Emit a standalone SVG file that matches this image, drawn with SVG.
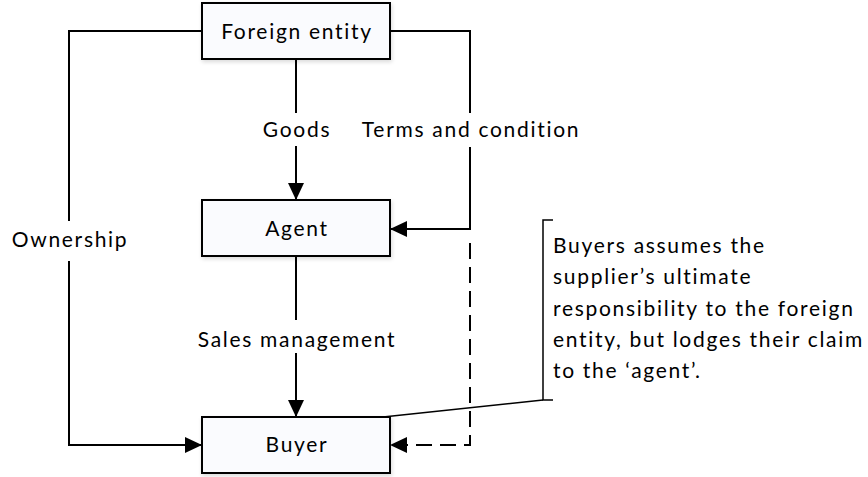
<svg xmlns="http://www.w3.org/2000/svg" width="868" height="477" viewBox="0 0 868 477">
<defs>
<marker id="arr" markerWidth="17" markerHeight="16" refX="17" refY="8" orient="auto" markerUnits="userSpaceOnUse">
<path d="M0,0 L17,8 L0,16 Z" fill="#000"/>
</marker>
<filter id="sh" x="-10%" y="-20%" width="120%" height="140%">
<feGaussianBlur in="SourceAlpha" stdDeviation="2"/>
<feOffset dx="1" dy="2"/>
<feComponentTransfer><feFuncA type="linear" slope="0.15"/></feComponentTransfer>
<feMerge><feMergeNode/><feMergeNode in="SourceGraphic"/></feMerge>
</filter>
</defs>
<style>
.box{fill:#fafbfe;stroke:#000;stroke-width:2;filter:url(#sh)}
.ln{fill:none;stroke:#000;stroke-width:2}
.dash{stroke-dasharray:16 8}
.t{font-family:Lato,"Open Sans",sans-serif;font-size:21px;letter-spacing:1.7px;fill:#000}
.m{text-anchor:middle}
.thin{fill:none;stroke:#000;stroke-width:1.5}
</style>
<rect width="868" height="477" fill="#fff"/>
<g id="connectors">
<path class="ln" d="M296,59 V113"/>
<path class="ln" d="M296,146 V200" marker-end="url(#arr)"/>
<path class="ln" d="M390,31 H470 V113"/>
<path class="ln" d="M470,147 V229 H390" marker-end="url(#arr)"/>
<path class="ln" d="M202,31 H69 V221"/>
<path class="ln" d="M69,261 V445 H202" marker-end="url(#arr)"/>
<path class="ln" d="M296,257 V320"/>
<path class="ln" d="M296,353 V417" marker-end="url(#arr)"/>
<path class="ln dash" d="M470,243 V445 H390" marker-end="url(#arr)"/>
<text class="t m" x="297" y="137">Goods</text>
<text class="t m" x="471" y="137">Terms and condition</text>
<text class="t m" x="70" y="247">Ownership</text>
<text class="t m" x="297" y="347">Sales management</text>
</g>
<g id="foreign-entity">
<rect class="box" x="202" y="3" width="188" height="56"/>
<text class="t m" x="297" y="39">Foreign entity</text>
</g>
<g id="agent">
<rect class="box" x="202" y="200" width="188" height="56"/>
<text class="t m" x="297" y="236">Agent</text>
</g>
<g id="buyer">
<rect class="box" x="202" y="417" width="188" height="56"/>
<text class="t m" x="297" y="452">Buyer</text>
</g>
<g id="callout">
<path class="thin" d="M383,417 L543,400"/>
<path class="thin" d="M553,220 H543 V400 H553"/>
<text class="t" x="553" y="253">Buyers assumes the</text>
<text class="t" x="553" y="284">supplier’s ultimate</text>
<text class="t" x="553" y="316">responsibility to the foreign</text>
<text class="t" x="553" y="347">entity, but lodges their claim</text>
<text class="t" x="553" y="378">to the ‘agent’.</text>
</g>
</svg>
